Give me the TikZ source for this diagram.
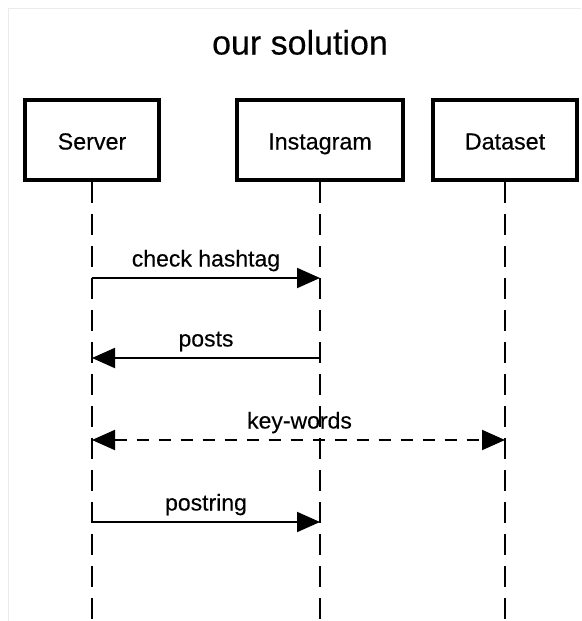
\documentclass[tikz,border=0pt]{standalone}
\usepackage{fontspec}
\setmainfont{Liberation Sans}[FakeBold=0.3]
\usetikzlibrary{arrows.meta}
\begin{document}
\begin{tikzpicture}[x=1pt,y=-1pt,
  actor/.style={draw=black,line width=3.5pt,minimum height=80pt,inner sep=0pt,text height=19pt,text depth=0pt,font=\fontsize{23.3}{28}\selectfont},
  lifeline/.style={line width=2pt,dash pattern=on 21pt off 11pt},
  msg/.style={line width=2pt,-{Triangle[length=23pt,width=20pt]}},
  msgboth/.style={line width=2pt,{Triangle[length=23pt,width=20pt]}-{Triangle[length=23pt,width=20pt]},dash pattern=on 12pt off 10pt},
  lbl/.style={font=\fontsize{23}{27}\selectfont,inner sep=0pt,text height=17pt,text depth=0pt,above=10.5pt}]
\useasboundingbox (0,0) rectangle (581,621);
\fill[white] (0,0) rectangle (581,621);
\draw[black!8,line width=1pt] (8,621) -- (8,8) -- (581,8);
\node[font=\fontsize{34}{40}\selectfont,text height=24pt,text depth=7pt,inner sep=0pt] (title) at (300,46) {our solution};
\node[actor,minimum width=134pt] (server) at (92,140) {Server};
\node[actor,minimum width=166pt] (insta) at (320,140) {Instagram};
\node[actor,minimum width=144pt] (data) at (505,140) {Dataset};
\coordinate (se) at (92,621);
\coordinate (ie) at (320,621);
\coordinate (de) at (505,621);
\draw[lifeline] (server.south) -- (se);
\draw[lifeline] (insta.south) -- (ie);
\draw[lifeline] (data.south) -- (de);
\coordinate (s1) at (92,278); \coordinate (i1) at (320,278);
\coordinate (s2) at (92,358); \coordinate (i2) at (320,358);
\coordinate (s3) at (92,440); \coordinate (d3) at (505,440);
\coordinate (s4) at (92,522); \coordinate (i4) at (320,522);
\draw[msg] (s1) -- node[lbl] (m1) {check hashtag} (i1);
\draw[msg] (i2) -- node[lbl] (m2) {posts} (s2);
\draw[msgboth] (s3) -- node[lbl,xshift=1pt] (m3) {key-words} (d3);
\draw[msg] (s4) -- node[lbl] (m4) {postring} (i4);
\end{tikzpicture}
\end{document}
